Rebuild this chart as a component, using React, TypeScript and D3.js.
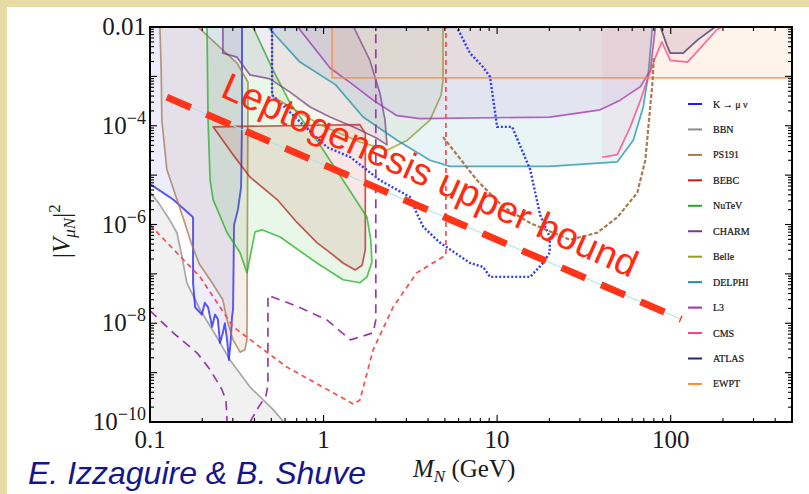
import React from "react";
import * as d3 from "d3";

type Pt = [number, number];

// ---- Data: (M_N in GeV, |V_muN|^2) ----
const KMUNU: Pt[] = [
  [0.1, 1e-2], [0.1, 6.6e-6], [0.136, 3.2e-6], [0.177, 1.4e-6], [0.177, 6.6e-8], [0.182, 2.1e-8],
  [0.199, 1.5e-8], [0.207, 2.6e-8], [0.216, 2.1e-8], [0.228, 8.5e-9], [0.237, 1.5e-8], [0.246, 1.2e-8],
  [0.253, 4.0e-9], [0.263, 6.4e-9], [0.27, 1.0e-8], [0.278, 4.6e-9], [0.285, 1.8e-9], [0.292, 4.6e-9],
  [0.297, 1.35e-8], [0.301, 1.9e-8], [0.305, 9.8e-7], [0.321, 2.0e-6], [0.335, 5.8e-6], [0.339, 1.3e-4],
  [0.339, 1e-2],
];
const BBN: Pt[] = [
  [0.1, 4.6e-6], [0.114, 2.5e-6], [0.13, 1.23e-6], [0.143, 6.8e-7], [0.153, 2.2e-7], [0.163, 6.6e-8],
  [0.194, 1.9e-8], [0.243, 5.2e-9], [0.289, 1.8e-9], [0.377, 5.1e-10], [0.511, 1.8e-10], [0.59, 1e-10],
  [0.1, 1e-10],
];
const PS191: Pt[] = [
  [0.114, 1e-2], [0.116, 1.35e-3], [0.117, 1.3e-4], [0.125, 1.3e-5], [0.143, 3.2e-6], [0.157, 1.2e-6],
  [0.172, 4.4e-7], [0.192, 1.6e-7], [0.228, 6.6e-8], [0.263, 2.95e-8], [0.278, 1.17e-8], [0.301, 4.6e-9],
  [0.33, 2.6e-9], [0.352, 2.9e-9], [0.362, 4.6e-9], [0.367, 7.7e-4], [0.317, 1.86e-3], [0.263, 3.4e-3],
  [0.189, 1e-2],
];
const BEBC: Pt[] = [
  [0.231, 9.5e-5], [1.62, 1.05e-4], [1.74, 7e-5], [1.74, 3.1e-7], [1.67, 1.5e-7], [1.52, 1.2e-7],
  [1.295, 1.66e-7], [1.09, 2.7e-7], [0.915, 4.3e-7], [0.703, 1.1e-6], [0.54, 3.2e-6], [0.377, 9.1e-6],
  [0.301, 2.6e-5],
];
const NUTEV: Pt[] = [
  [0.392, 1e-2], [0.511, 1.35e-3], [0.641, 2.9e-4], [0.915, 5.1e-5], [1.37, 5.8e-6], [1.78, 1.4e-6],
  [1.87, 4.9e-7], [1.9, 1.74e-7], [1.78, 8.7e-8], [1.62, 6.6e-8], [1.295, 7.6e-8], [0.915, 1.66e-7],
  [0.562, 5.6e-7], [0.442, 7.8e-7], [0.403, 7.1e-7], [0.362, 1.05e-7], [0.33, 2.7e-7], [0.278, 6.8e-7],
  [0.231, 3.2e-6], [0.222, 7.9e-6], [0.216, 1.3e-4], [0.213, 1e-2],
];
const CHARM: Pt[] = [
  [0.263, 1e-2], [0.263, 2.95e-3], [0.317, 2.45e-3], [0.377, 1.07e-3], [0.491, 8.9e-4], [0.641, 4.8e-4],
  [0.836, 2.4e-4], [1.09, 1.5e-4], [1.52, 9.1e-5], [2.03, 5.6e-5], [2.32, 4.1e-5], [2.26, 1.3e-4],
  [2.11, 4.6e-4], [1.85, 2.1e-3], [1.49, 1e-2],
];
const BELLE: Pt[] = [
  [0.505, 1e-2], [0.505, 4e-4], [0.952, 1.05e-4], [1.62, 4.7e-5], [2.32, 3.2e-5], [3.04, 5.1e-5],
  [4.1, 1.3e-4], [4.76, 4.2e-4], [4.88, 8.5e-4], [4.88, 1e-2],
];
const DELPHI: Pt[] = [
  [0.478, 1e-2], [0.731, 1.95e-3], [1.17, 6.8e-4], [1.69, 1.5e-4], [2.65, 5.1e-5], [4.1, 2.0e-5],
  [5.34, 1.5e-5], [20.1, 1.5e-5], [49.3, 1.86e-5], [60.9, 5.1e-5], [69.5, 2.4e-4], [74, 9.8e-4],
  [78.5, 1e-2],
];
const L3: Pt[] = [
  [0.71, 1e-2], [1.09, 1.48e-3], [1.43, 7.4e-4], [1.93, 3.3e-4], [2.65, 1.6e-4], [3.6, 1.4e-4],
  [20.1, 1.5e-4], [39.3, 2.1e-4], [51.1, 3.3e-4], [67, 6.2e-4], [76.4, 1.35e-3], [81.7, 1e-2],
];
const CMS: Pt[] = [
  [40.3, 1e-2], [40.3, 2.3e-5], [49.3, 2.6e-5], [58.5, 9.5e-5], [67, 3.3e-4], [73.4, 8.5e-4],
  [81.7, 2.45e-3], [88.9, 5e-3], [99.4, 2.1e-3], [125, 1.95e-3], [184, 8.7e-3], [197, 1e-2],
];
const ATLAS: Pt[] = [
  [87.3, 1e-2], [95, 4.3e-3], [99.4, 2.95e-3], [118, 2.95e-3], [143, 5.5e-3], [180, 1e-2],
];
const EWPT: Pt[] = [[1.12, 1e-2], [1.12, 9.3e-4], [500, 9.3e-4], [500, 1e-2]];

// projections (dashed / dotted curves)
const BLUE_DOTTED: Pt[] = [
  [0.505, 1e-2], [0.505, 4.2e-4], [0.731, 1.2e-4], [1.045, 3.7e-5], [1.43, 2.3e-5], [2.11, 7.9e-6],
  [3.15, 3.6e-6], [3.44, 1.7e-6], [3.76, 8.9e-7], [4.68, 4.3e-7], [6.98, 1.66e-7], [8.3, 1.38e-7],
  [9.1, 8.7e-8], [15.5, 8.7e-8], [18.4, 1.66e-7], [20.1, 2.7e-7], [20.1, 5.6e-7], [17.7, 1.55e-6],
  [15.5, 1.3e-5], [12.2, 9.5e-5], [10, 9.5e-5], [9.1, 9.8e-4], [8.3, 1.55e-3], [6.98, 2.95e-3],
  [5.86, 1e-2],
];
const BROWN_DASHED: Pt[] = [
  [4.88, 5.9e-5], [7.65, 7.9e-6], [10.8, 2.3e-6], [15.5, 1.07e-6], [26.3, 4.9e-7], [37.7, 6.8e-7],
  [49.3, 1.4e-6], [64.2, 4.4e-6], [71.4, 2.0e-5], [75, 1.3e-4], [78.5, 7.4e-4], [80, 2.5e-3],
];
const RED_DASHED: Pt[] = [
  [0.1, 9.8e-7], [0.194, 8.7e-8], [0.301, 8.5e-9], [0.511, 2.1e-9], [0.61, 1.32e-9], [0.99, 5.1e-10],
  [1.49, 2.3e-10], [1.62, 2.8e-10], [1.93, 2.9e-9], [2.51, 2.1e-8], [3.44, 1.05e-7], [5.07, 2.4e-7],
  [5.07, 1e-2],
];
const PURPLE_DASHED_A: Pt[] = [
  [0.1, 1.8e-8], [0.136, 6.4e-9], [0.187, 2.5e-9], [0.222, 1.15e-9], [0.26, 4.5e-10], [0.274, 2.8e-10],
  [0.278, 1e-10],
];
const PURPLE_DASHED_B: Pt[] = [
  [0.377, 1e-10], [0.42, 1.95e-10], [0.466, 3.4e-10], [0.478, 5.6e-10], [0.478, 3.7e-8], [0.703, 2.2e-8],
  [1.045, 1.17e-8], [1.43, 4.6e-9], [1.93, 6.4e-9], [2.0, 1.17e-8], [2.0, 1e-2],
];
const LEPTO: Pt[] = [[0.125, 3.8e-4], [115, 1.2e-8]];

const X_TICK_VALUES = [0.1, 1, 10, 100];
const X_TICK_LABELS = ["0.1", "1", "10", "100"];
const Y_TICK_VALUES = [1e-2, 1e-4, 1e-6, 1e-8, 1e-10];
const Y_TICK_BASES = ["0.01", "10", "10", "10", "10"];
const Y_TICK_EXPS = ["", "\u22124", "\u22126", "\u22128", "\u221210"];

const LEGEND_LABELS = ["K \u2192 \u03bc \u03bd", "BBN", "PS191", "BEBC", "NuTeV", "CHARM", "Belle", "DELPHI", "L3", "CMS", "ATLAS", "EWPT"];
const LEGEND_COLORS = ["#1a1aff", "#8c8c8c", "#a47a4c", "#c01818", "#22b022", "#7a3a8c", "#9a9a20", "#1a90a8", "#a030b0", "#ff3a80", "#262670", "#ff8a30"];

// region styles (index into legend colours)
const REGIONS: { data: Pt[]; c: number; fo: number; open?: boolean; sw?: number; so?: number }[] = [
  { data: BBN, c: 1, fo: 0.12 },
  { data: KMUNU, c: 0, fo: 0.08, sw: 1.9 },
  { data: PS191, c: 2, fo: 0.12 },
  { data: BEBC, c: 3, fo: 0.1 },
  { data: NUTEV, c: 4, fo: 0.1 },
  { data: CHARM, c: 5, fo: 0.1 },
  { data: BELLE, c: 6, fo: 0.08 },
  { data: DELPHI, c: 7, fo: 0.1 },
  { data: L3, c: 8, fo: 0.07 },
  { data: CMS, c: 9, fo: 0.06, open: true },
  { data: ATLAS, c: 10, fo: 0.1 },
  { data: EWPT, c: 11, fo: 0.09 },
];

export default function App() {
  const W = 809, H = 494;
  const x = d3.scaleLog().domain([0.1, 500]).range([150, 792]);
  const y = d3.scaleLog().domain([1e-10, 1e-2]).range([422, 27]);
  const line = d3.line<Pt>().x((d) => x(d[0])).y((d) => y(d[1]));
  const [x0, x1] = x.range();
  const [y0, y1] = y.range();

  const isMajor = (v: number) => Math.abs(Math.log10(v) - Math.round(Math.log10(v))) < 1e-6;
  const xt = x.ticks();
  const yt = y.ticks();

  const serif = "'Liberation Serif', 'Times New Roman', serif";
  const sans = "'Liberation Sans', Arial, sans-serif";

  const p1 = [x(LEPTO[0][0]), y(LEPTO[0][1])];
  const p2 = [x(LEPTO[1][0]), y(LEPTO[1][1])];
  const ang = (Math.atan2(p2[1] - p1[1], p2[0] - p1[0]) * 180) / Math.PI + 0.5;

  return (
    <svg width={W} height={H} style={{ position: "absolute", left: 0, top: 0 }} xmlns="http://www.w3.org/2000/svg">
      <rect x={0} y={0} width={W} height={H} fill="#e8dca6" />
      <rect x={7} y={7} width={W - 7} height={H - 7} fill="#ffffff" />
      <defs>
        <clipPath id="plot">
          <rect x={x0} y={y1} width={x1 - x0} height={y0 - y1} />
        </clipPath>
      </defs>
      <g clipPath="url(#plot)">
        {REGIONS.map((r, i) => (
          <g key={i}>
            <path d={line(r.data) + "Z"} fill={LEGEND_COLORS[r.c]} fillOpacity={r.fo} stroke="none" />
            <path
              d={r.open ? (line(r.data.slice(1)) as string) : line(r.data) + "Z"}
              fill="none"
              stroke={LEGEND_COLORS[r.c]}
              strokeOpacity={r.so ?? 0.75}
              strokeWidth={r.sw ?? 1.7}
              strokeLinejoin="round"
            />
          </g>
        ))}
        <path d={line(BLUE_DOTTED) + "Z"} fill="none" stroke="#2a3cff" strokeWidth={2.4} strokeDasharray="2 2" />
        <path d={line(BROWN_DASHED) as string} fill="none" stroke="#a87a4c" strokeWidth={2.2} strokeDasharray="4 2" />
        <path d={line(RED_DASHED) as string} fill="none" stroke="#ff4a4a" strokeWidth={1.7} strokeDasharray="5 4" />
        <path d={line(PURPLE_DASHED_A) as string} fill="none" stroke="#9a3aaa" strokeWidth={1.7} strokeDasharray="9 6" />
        <path d={line(PURPLE_DASHED_B) as string} fill="none" stroke="#9a3aaa" strokeWidth={1.7} strokeDasharray="9 6" />
        <path d={line(LEPTO) as string} fill="none" stroke="#a8e2ea" strokeWidth={1} />
        <path d={line(LEPTO) as string} fill="none" stroke="#ff3418" strokeWidth={7} strokeDasharray="26 17" />
      </g>

      {/* frame */}
      <rect x={x0} y={y1} width={x1 - x0} height={y0 - y1} fill="none" stroke="#000" strokeWidth={2} />
      {xt.map((v, i) => {
        const L = isMajor(v) ? 7 : 4;
        const px = x(v);
        return (
          <g key={"xt" + i} stroke="#000" strokeWidth={1.1}>
            <line x1={px} x2={px} y1={y0} y2={y0 - L} />
            <line x1={px} x2={px} y1={y1} y2={y1 + L} />
          </g>
        );
      })}
      {yt.map((v, i) => {
        const L = isMajor(v) ? 7 : 4;
        const py = y(v);
        return (
          <g key={"yt" + i} stroke="#000" strokeWidth={1.1}>
            <line x1={x0} x2={x0 + L} y1={py} y2={py} />
            <line x1={x1} x2={x1 - L} y1={py} y2={py} />
          </g>
        );
      })}

      {/* tick labels */}
      {X_TICK_VALUES.map((v, i) => (
        <text key={"xl" + i} x={x(v)} y={448} textAnchor="middle" fontFamily={serif} fontSize={25} fill="#1a1a1a">
          {X_TICK_LABELS[i]}
        </text>
      ))}
      {Y_TICK_VALUES.map((v, i) => (
        <text key={"yl" + i} x={146} y={y(v) + 8} textAnchor="end" fontFamily={serif} fontSize={25} fill="#1a1a1a">
          <tspan>{Y_TICK_BASES[i]}</tspan>
          {Y_TICK_EXPS[i] && (
            <tspan dy={-10} fontSize={18}>
              {Y_TICK_EXPS[i]}
            </tspan>
          )}
        </text>
      ))}

      {/* axis labels */}
      <text transform="translate(70,258) rotate(-90)" fontFamily={serif} fontSize={25} fill="#1a1a1a">
        <tspan>|</tspan>
        <tspan fontStyle="italic">V</tspan>
        <tspan fontStyle="italic" fontSize={17} dy={5}>μN</tspan>
        <tspan dy={-5}>|</tspan>
        <tspan fontSize={17} dy={-10}>2</tspan>
      </text>
      <text x={413} y={477} fontFamily={serif} fontSize={25} fill="#1a1a1a">
        <tspan fontStyle="italic">M</tspan>
        <tspan fontStyle="italic" fontSize={17} dy={5}>N</tspan>
        <tspan dy={-5}> (GeV)</tspan>
      </text>
      <text x={28} y={484} fontFamily={sans} fontStyle="italic" fontSize={32} fill="#16168c">
        E. Izzaguire &amp; B. Shuve
      </text>

      {/* leptogenesis label */}
      <text transform={`translate(219,96) rotate(${ang})`} fontFamily={sans} fontSize={38} fill="#ff2a10">
        Leptogenesis upper bound
      </text>

      {/* legend */}
      {LEGEND_LABELS.map((lab, i) => {
        const ly = 104 + i * 25.45;
        return (
          <g key={"lg" + i}>
            <line x1={688} x2={702} y1={ly} y2={ly} stroke={LEGEND_COLORS[i]} strokeWidth={2} />
            <text x={713} y={ly + 3.5} fontFamily={serif} fontSize={10} fill="#111" stroke="#111" strokeWidth={0.2}>
              {lab}
            </text>
          </g>
        );
      })}
    </svg>
  );
}
